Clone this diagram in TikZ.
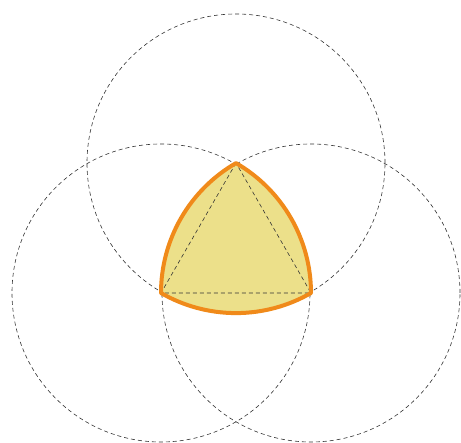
\documentclass[tikz,border=0pt]{standalone}
\begin{document}
\begin{tikzpicture}[x=1pt,y=1pt,
  guide/.style={draw=black!80,line width=0.6pt,dash pattern=on 4pt off 3pt},
  reuleauxfill/.style={fill={rgb,255:red,236;green,224;blue,138}},
  reuleauxline/.style={draw={rgb,255:red,240;green,138;blue,26},line width=4pt,line join=round}]
\useasboundingbox (0,0) rectangle (461,443);
\coordinate (A) at (236,280);
\coordinate (B) at (161,150);
\coordinate (C) at (311,150);
\def\reuleauxpath{(B) arc[start angle=240,end angle=300,radius=150]
  arc[start angle=0,end angle=60,radius=150]
  arc[start angle=120,end angle=180,radius=150] -- cycle}
\path[reuleauxfill] \reuleauxpath;
\draw[guide] (A) circle[radius=149];
\draw[guide] (B) circle[radius=149];
\draw[guide] (C) circle[radius=149];
\draw[guide] (A) -- (B) -- (C) -- cycle;
\path[reuleauxline] \reuleauxpath;
\end{tikzpicture}
\end{document}
